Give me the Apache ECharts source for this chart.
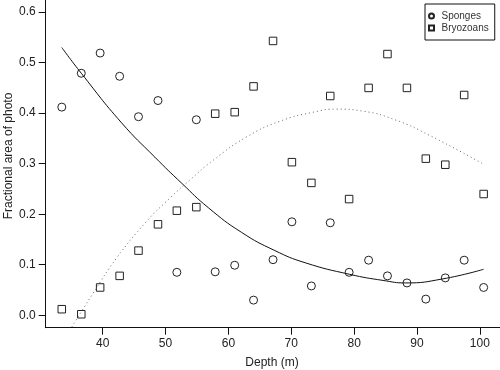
<!DOCTYPE html>
<html>
<head>
<meta charset="utf-8">
<script src="https://cdn.jsdelivr.net/npm/echarts@6/dist/echarts.min.js"></script>
<style>html,body{margin:0;padding:0;background:#fff;}#c{width:500px;height:370px;}</style>
</head>
<body>
<div id="c"></div>
<script>
const depths = [33.5, 36.6, 39.6, 42.7, 45.7, 48.8, 51.8, 54.9, 57.9, 61.0, 64.0, 67.1, 70.1, 73.2, 76.2, 79.2, 82.3, 85.3, 88.4, 91.4, 94.5, 97.5, 100.6];
const sponges = [0.412, 0.479, 0.519, 0.473, 0.393, 0.425, 0.085, 0.387, 0.086, 0.099, 0.030, 0.110, 0.185, 0.058, 0.183, 0.085, 0.109, 0.078, 0.064, 0.032, 0.074, 0.109, 0.055];
const bryozoans = [0.012, 0.002, 0.055, 0.078, 0.128, 0.180, 0.207, 0.214, 0.399, 0.402, 0.453, 0.543, 0.303, 0.262, 0.434, 0.230, 0.450, 0.517, 0.450, 0.310, 0.298, 0.436, 0.240];
const spongeFitDepth = [33.5, 36.6, 43.0, 48.3, 52.6, 56.8, 62.1, 67.4, 72.2, 79.3, 84.6, 88.2, 94.1, 100.6];
const spongeFitValue = [0.530, 0.479, 0.381, 0.313, 0.261, 0.213, 0.164, 0.128, 0.104, 0.081, 0.069, 0.064, 0.072, 0.091];
const bryoFitDepth = [35.1, 38.5, 42.2, 47.0, 50.7, 53.9, 57.6, 62.9, 68.2, 73.5, 77.2, 81.4, 86.7, 92.0, 100.6];
const bryoFitValue = [-0.023, 0.044, 0.113, 0.186, 0.232, 0.268, 0.307, 0.353, 0.384, 0.402, 0.408, 0.404, 0.386, 0.356, 0.299];
const xTicks = [40, 50, 60, 70, 80, 90, 100];
const yTicks = [0.0, 0.1, 0.2, 0.3, 0.4, 0.5, 0.6];
const seriesNames = ['Sponges', 'Bryozoans'];
const xTitle = 'Depth (m)';
const yTitle = 'Fractional area of photo';

const FONT = '"Liberation Sans", Arial, Helvetica, sans-serif';
const chart = echarts.init(document.getElementById('c'), null, {renderer: 'canvas'});
const pairs = (xs, ys) => xs.map((x, i) => [x, ys[i]]);

chart.setOption({
  animation: false,
  backgroundColor: '#fff',
  grid: {left: 45.7, right: 0, top: 0, bottom: 42.3, containLabel: false},
  xAxis: {
    type: 'value', min: 30.94, max: 103.2,
    axisLine: {show: true, onZero: false, lineStyle: {color: '#111', width: 1}},
    axisTick: {show: true, length: 7, customValues: xTicks, lineStyle: {color: '#111'}},
    axisLabel: {customValues: xTicks, margin: 10, fontSize: 12, color: '#222', fontFamily: FONT,
      formatter: v => String(v)},
    splitLine: {show: false}
  },
  yAxis: {
    type: 'value', min: -0.0246, max: 0.624,
    axisLine: {show: true, onZero: false, lineStyle: {color: '#111', width: 1}},
    axisTick: {show: true, length: 7, customValues: yTicks, lineStyle: {color: '#111'}},
    axisLabel: {customValues: yTicks, margin: 10, fontSize: 12, color: '#222', fontFamily: FONT,
      formatter: v => Number(v).toFixed(1)},
    splitLine: {show: false}
  },
  legend: {
    data: [
      {name: seriesNames[0], icon: 'circle'},
      {name: seriesNames[1], icon: 'path://M0 0H10V10H0Z'}
    ],
    orient: 'vertical', left: 425, top: 4,
    padding: [6, 6, 6, 3],
    borderColor: '#111', borderWidth: 1,
    itemWidth: 10, itemHeight: 5, itemGap: 0,
    symbolKeepAspect: true,
    textStyle: {fontSize: 10, color: '#333', fontFamily: FONT, lineHeight: 12}
  },
  graphic: [
    {type: 'text', x: 272, y: 363, style: {text: xTitle, fill: '#222', font: '12px ' + FONT, textAlign: 'center', textVerticalAlign: 'middle'}},
    {type: 'text', x: 8.5, y: 156, rotation: Math.PI / 2, style: {text: yTitle, fill: '#222', font: '12px ' + FONT, textAlign: 'center', textVerticalAlign: 'middle'}}
  ],
  series: [
    {
      name: seriesNames[0], type: 'scatter', symbol: 'circle', symbolSize: 8,
      itemStyle: {color: '#fff', borderColor: '#222', borderWidth: 1, opacity: 1},
      data: pairs(depths, sponges), z: 3
    },
    {
      name: seriesNames[1], type: 'scatter', symbol: 'rect', symbolSize: 7.5,
      itemStyle: {color: '#fff', borderColor: '#222', borderWidth: 1, opacity: 1},
      data: pairs(depths, bryozoans), z: 3
    },
    {
      name: 'spongeFit', type: 'line', showSymbol: false, smooth: 0.5,
      lineStyle: {color: '#111', width: 1},
      data: pairs(spongeFitDepth, spongeFitValue), z: 4
    },
    {
      name: 'bryoFit', type: 'line', showSymbol: false, smooth: 0.5,
      lineStyle: {color: '#666', width: 1, type: [1, 3]},
      data: pairs(bryoFitDepth, bryoFitValue), z: 4
    }
  ]
});
</script>
</body>
</html>
